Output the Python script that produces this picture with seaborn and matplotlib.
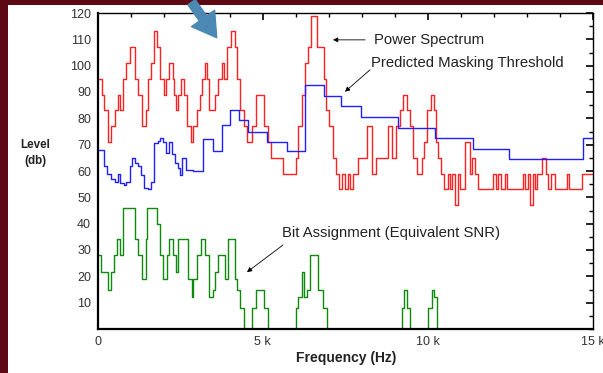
import pandas as pd
import matplotlib
matplotlib.use("Agg")
import matplotlib.pyplot as plt
import matplotlib.patches as mpatches
from matplotlib.ticker import MultipleLocator, FixedLocator
import seaborn as sns

# Power spectrum: step start frequencies (Hz) and levels (db)
spec_freq = [0, 112, 191, 294, 394, 516, 597, 676, 758, 858, 961, 1122, 1222, 1325,
             1447, 1507, 1607, 1689, 1789, 1890, 1993, 2072, 2153, 2266, 2314, 2366,
             2435, 2508, 2617, 2708, 2812, 2890, 2994, 3094, 3163, 3245, 3297, 3367,
             3549, 3649, 3752, 3822, 3903, 4025, 4155, 4225, 4322, 4419, 4519, 4680,
             4783, 5044, 5147, 5247, 5620, 5996, 6075, 6178, 6278, 6378, 6460, 6657,
             6845, 6924, 7006, 7128, 7209, 7325, 7409, 7491, 7583, 7643, 7734, 7877,
             8159, 8319, 8441, 8796, 8917, 9038, 9160, 9251, 9387, 9463, 9554, 9675,
             9827, 9903, 9979, 10100, 10182, 10242, 10321, 10403, 10503, 10606, 10667,
             10746, 10828, 10910, 10989, 11131, 11283, 11352, 11434, 11525, 11980,
             12062, 12141, 12223, 12344, 12405, 12890, 12951, 13042, 13103, 13194,
             13254, 13315, 13457, 13588, 13649, 13740, 13861, 14225, 14286, 14680]
spec_level = [95, 89, 83, 71, 77, 83, 89, 83, 95, 101, 107, 95, 89, 77,
              83, 95, 101, 113, 107, 95, 89, 95, 101, 95, 89, 83,
              89, 95, 89, 77, 71, 77, 83, 89, 95, 101, 95, 83,
              89, 95, 101, 95, 107, 113, 107, 95, 83, 77, 71, 77,
              89, 77, 71, 65, 59, 65, 77, 89, 101, 107, 119, 107,
              95, 83, 77, 65, 59, 53, 59, 53, 59, 53, 59, 65,
              77, 59, 65, 77, 65, 77, 83, 89, 83, 77, 65, 59,
              65, 71, 83, 89, 83, 71, 65, 59, 53, 59, 53,
              59, 47, 59, 53, 71, 59, 65, 59, 53, 59,
              53, 59, 53, 59, 53, 59, 53, 59, 47, 59,
              53, 59, 65, 59, 53, 59, 53, 59, 53, 59]

# Predicted masking threshold
mask_freq = [0, 191, 264, 394, 516, 597, 676, 780, 858, 961, 1040, 1122, 1204, 1304,
             1404, 1526, 1607, 1689, 1811, 1890, 1971, 2053, 2153, 2253, 2335, 2417,
             2496, 2539, 2660, 2890, 3194, 3497, 3752, 4004, 4286, 4559, 5117, 5723,
             6278, 6864, 7370, 7977, 9108, 10221, 11365, 12481, 14710]
mask_level = [68, 62, 59, 57, 56, 59, 55.5, 54.5, 56, 62, 65, 63, 62, 58.5,
              53.5, 53, 56, 70.5, 71.5, 72.5, 71, 67, 71, 66.5, 63, 61,
              58.5, 65, 60.5, 60, 72, 67.5, 77.5, 83, 79.5, 75, 71, 67.5,
              92.5, 88.5, 84.5, 80.5, 76.5, 72.5, 68.5, 64.5, 72.5]

# Bit assignment (equivalent SNR)
bits_freq = [0, 91, 312, 394, 494, 585, 667, 767, 1122, 1222, 1325, 1447, 1495, 1780,
             1880, 1981, 2084, 2163, 2266, 2357, 2435, 2739, 2842, 2890, 2994, 3124,
             3245, 3376, 3479, 3549, 3649, 3852, 3934, 4155, 4225, 4307, 4428, 4680,
             4792, 5044, 5165, 6020, 6081, 6178, 6257, 6330, 6430, 6682, 6833, 6936,
             9211, 9281, 9363, 9463, 10000, 10121, 10200, 10282]
bits_level = [28, 21.5, 15, 21.5, 28, 34, 28, 46, 34, 28, 19, 34, 46, 40,
              28, 19, 28, 34, 28, 21.5, 34, 19, 12, 19, 28, 34,
              28, 12, 15, 21.5, 28, 19, 34, 19, 15, 8, 0, 8,
              15, 8, 0, 8, 12, 21.5, 12, 15, 28, 15, 8, 0,
              8, 15, 8, 0, 8, 15, 12, 0]

x_ticks = [0, 5000, 10000, 15000]
x_tick_labels = ["0", "5 k", "10 k", "15 k"]
y_ticks = [10, 20, 30, 40, 50, 60, 70, 80, 90, 100, 110, 120]

sns.set_style("white")
plt.rcParams['font.family'] = ['Liberation Sans', 'DejaVu Sans']

fig = plt.figure(figsize=(6.03, 3.73), dpi=100)
fig.patch.set_facecolor("white")

# maroon frame strips (slide background)
fig.patches.append(mpatches.Rectangle((0, 0), 8 / 603, 1, transform=fig.transFigure,
                                      facecolor="#5c0915", edgecolor="none", zorder=0))
fig.patches.append(mpatches.Rectangle((0, 1 - 5 / 373), 1, 5 / 373, transform=fig.transFigure,
                                      facecolor="#5c0915", edgecolor="none", zorder=0))

ax = fig.add_axes([98 / 603, 44 / 373, 494.5 / 603, 316 / 373])


def steps(freq, level):
    # repeat the last level up to the end of the axis
    return pd.DataFrame({"freq": freq + [15000], "level": level + [level[-1]]})


sns.lineplot(data=steps(spec_freq, spec_level), x="freq", y="level", ax=ax,
             drawstyle="steps-post", color="#ff2020", lw=1.0, estimator=None, sort=False)
sns.lineplot(data=steps(mask_freq, mask_level), x="freq", y="level", ax=ax,
             drawstyle="steps-post", color="#2020ff", lw=1.0, estimator=None, sort=False)
sns.lineplot(data=steps(bits_freq, bits_level), x="freq", y="level", ax=ax,
             drawstyle="steps-post", color="#0b8a0b", lw=1.0, estimator=None, sort=False)

ax.set_xlim(0, 15000)
ax.set_ylim(0, 120)
ax.set_xlabel("")
ax.set_ylabel("")

ax.xaxis.set_major_locator(FixedLocator(x_ticks))
ax.set_xticklabels(x_tick_labels)
ax.xaxis.set_minor_locator(MultipleLocator(1000))
ax.yaxis.set_major_locator(FixedLocator(y_ticks))
ax.yaxis.set_minor_locator(MultipleLocator(5))

ax.tick_params(which="both", direction="in", top=True, right=True, colors="black",
               labelcolor="#333333", labelsize=9)
ax.tick_params(which="major", length=5, width=1.2)
ax.tick_params(which="minor", length=3, width=1.0)
ax.tick_params(axis="y", pad=5)
ax.tick_params(axis="x", pad=5)

for side in ["left", "bottom"]:
    ax.spines[side].set_linewidth(1.6)
for side in ["top", "right"]:
    ax.spines[side].set_linewidth(1.0)
for s in ax.spines.values():
    s.set_color("black")

# annotations
arrow = dict(arrowstyle="-|>", color="black", lw=0.6, mutation_scale=7)
ax.annotate("Power Spectrum", xy=(7128, 109.8), xytext=(8371, 109.8),
            fontsize=10.7, color="#222222", va="center", ha="left",
            arrowprops=dict(arrow, shrinkB=0, shrinkA=4))
ax.annotate("", xy=(7491, 90.1), xytext=(8250, 98.4), arrowprops=dict(arrow, shrinkA=0, shrinkB=0))
ax.text(8271, 101, "Predicted Masking Threshold", fontsize=10.7, color="#222222", va="center")
ax.annotate("", xy=(4519, 21.6), xytext=(5611, 31.9), arrowprops=dict(arrow, shrinkA=0, shrinkB=0))
ax.text(5581, 36.3, "Bit Assignment (Equivalent SNR)", fontsize=10.7, color="#222222", va="center")

fig.text(35 / 603, 1 - 153 / 373, "Level\n(db)", ha="center", va="center",
         fontsize=8.4, fontweight="bold", color="#222222", linespacing=1.45)
fig.text(346 / 603, 1 - 358 / 373, "Frequency (Hz)", ha="center", va="center",
         fontsize=10, fontweight="bold", color="#222222")

# big blue pointer arrow at the top
blue = mpatches.FancyArrowPatch((190 / 603, 1.0), (218.3 / 603, 1 - 40 / 373),
                                transform=fig.transFigure,
                                arrowstyle=mpatches.ArrowStyle.Simple(head_length=1.0, head_width=1.2,
                                                                      tail_width=0.38),
                                mutation_scale=17, color="#4b88b3", zorder=5)
fig.patches.append(blue)

fig.savefig("out.png", dpi=100)
